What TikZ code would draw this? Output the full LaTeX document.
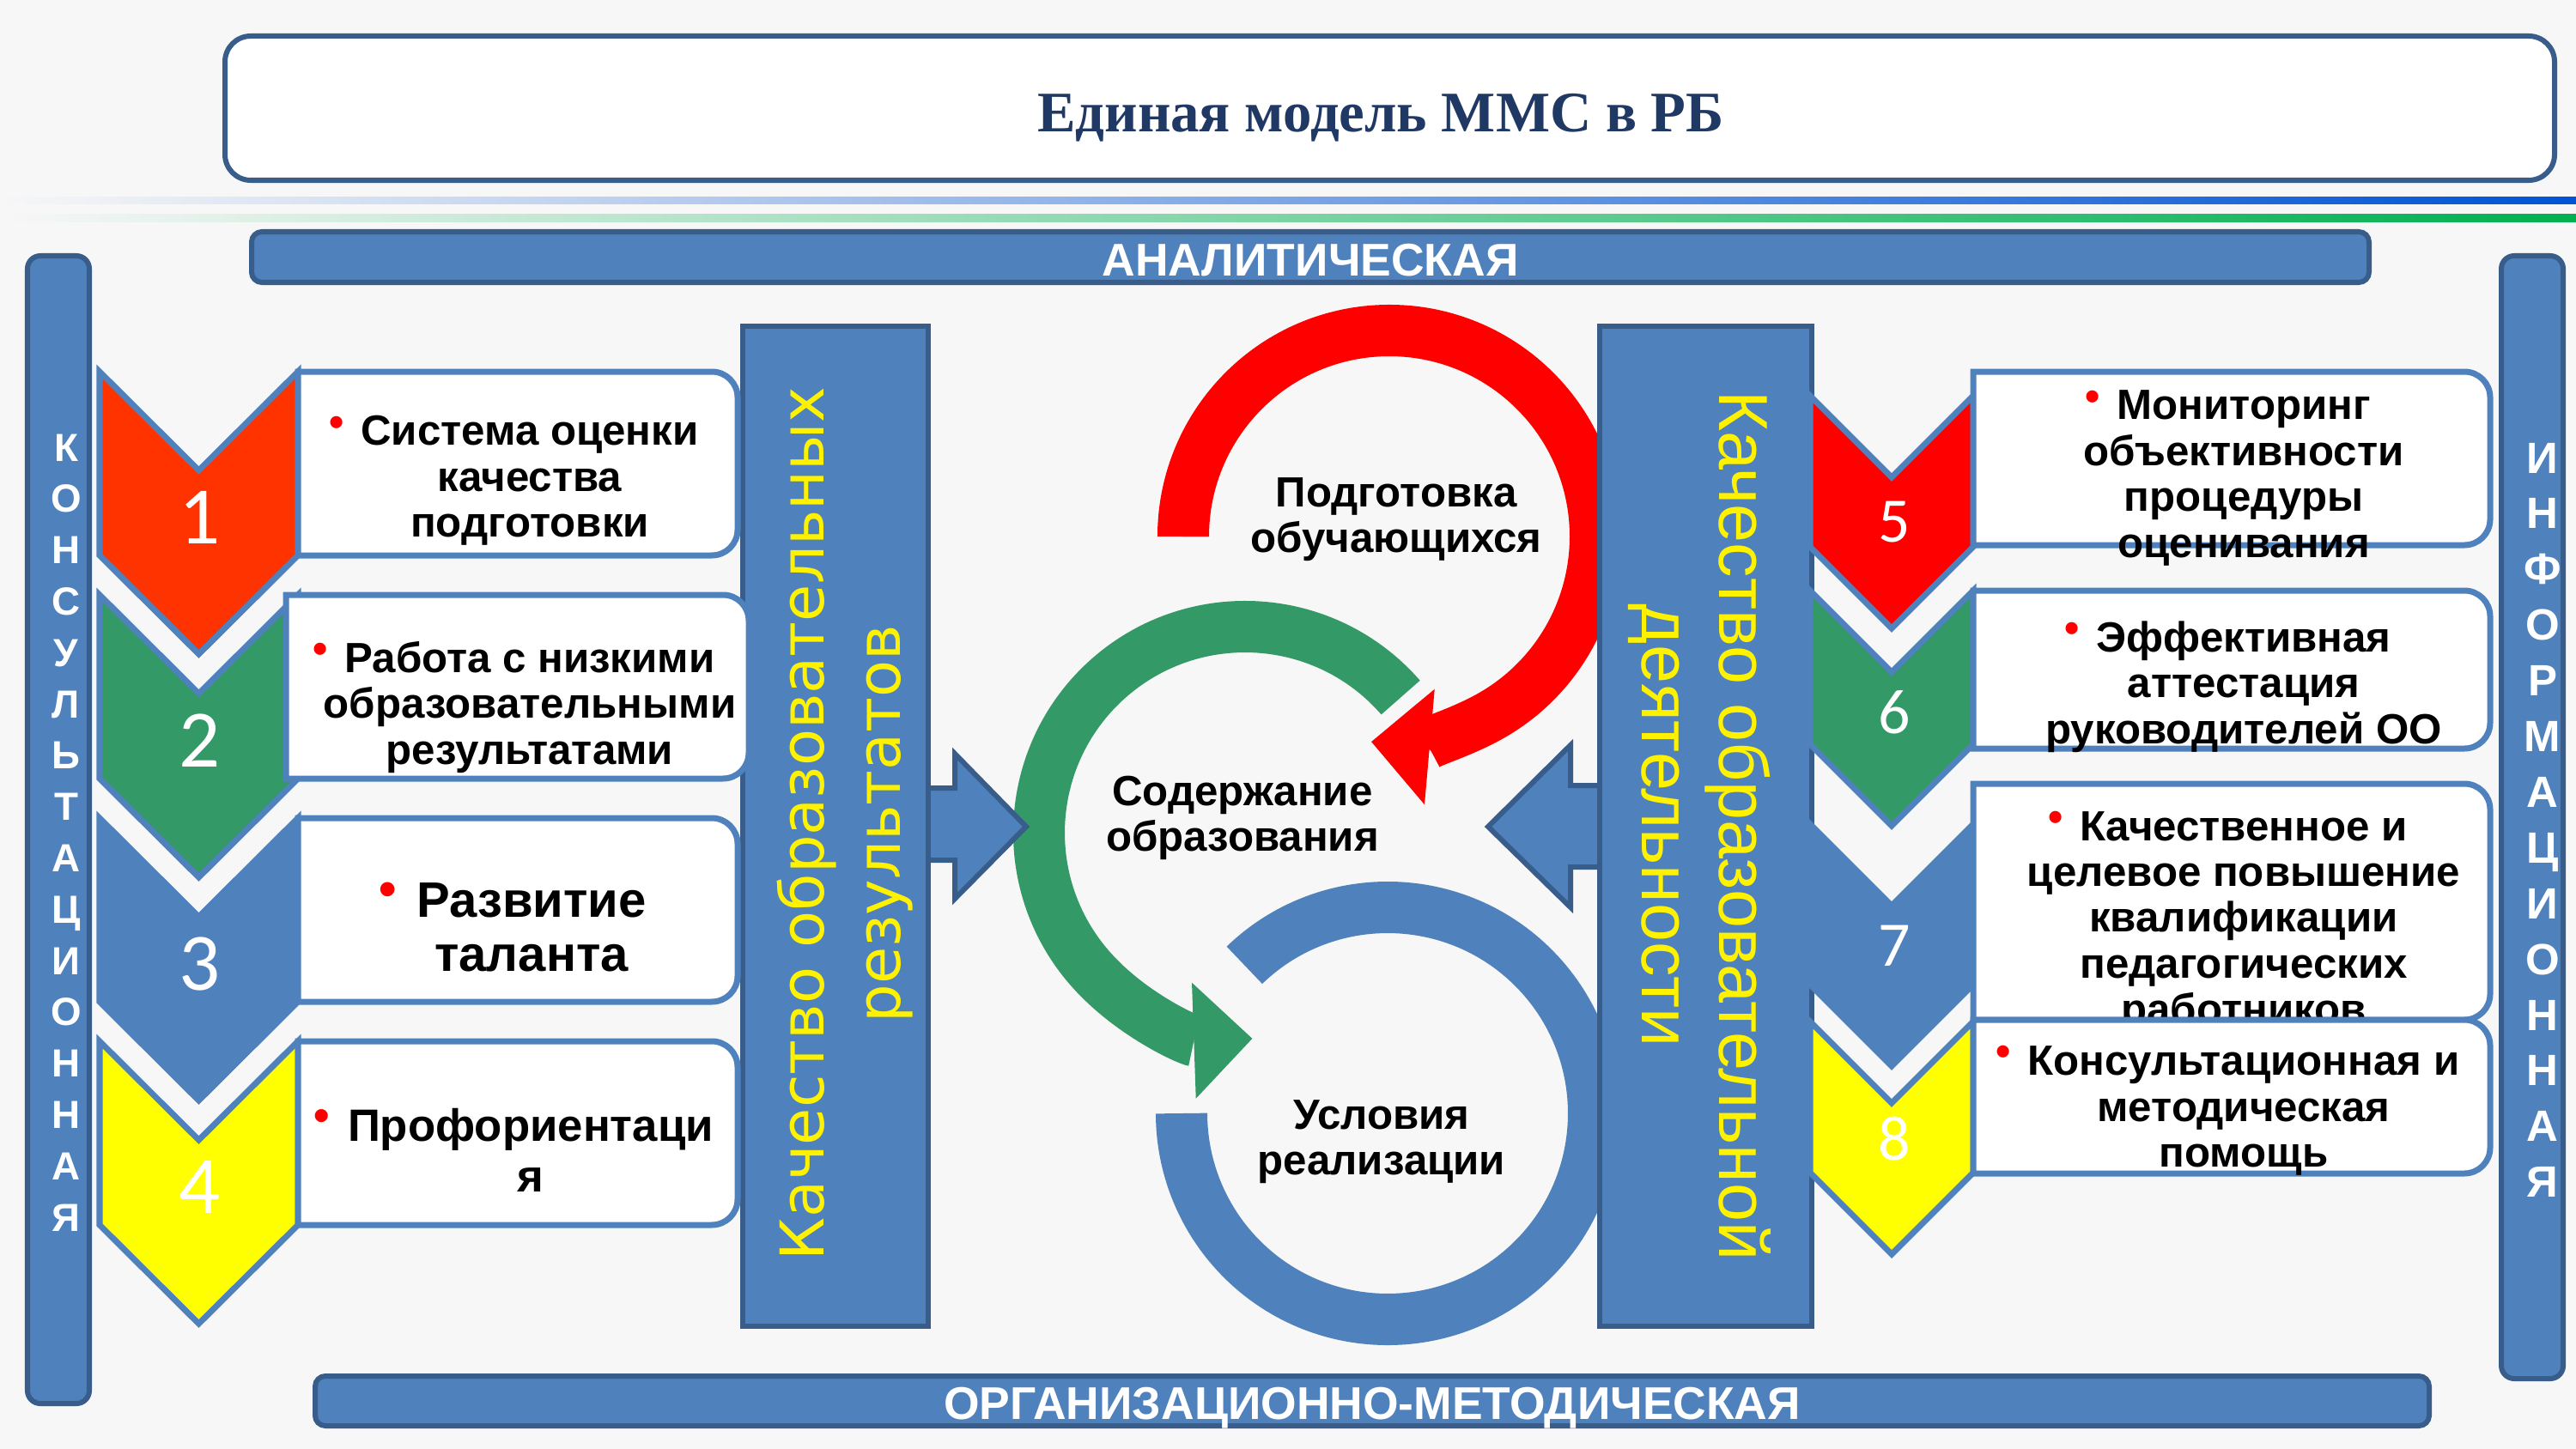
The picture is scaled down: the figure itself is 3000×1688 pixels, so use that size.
\documentclass[tikz,border=0pt]{standalone}
\usepackage{fontspec}
\setmainfont{Liberation Sans}
\newfontfamily\titlefont{Liberation Serif}
\newfontfamily\numfont{Carlito}
\newfontfamily\widefont{DejaVu Sans}
\usetikzlibrary{arrows.meta}

\definecolor{bgcol}{RGB}{247,247,247}
\definecolor{boxblue}{RGB}{79,129,189}
\definecolor{darkblue}{RGB}{56,93,138}
\definecolor{titleblue}{RGB}{31,56,100}
\definecolor{chevred}{RGB}{255,51,0}
\definecolor{ringred}{RGB}{255,0,0}
\definecolor{chevgreen}{RGB}{51,153,102}
\definecolor{chevyellow}{RGB}{255,255,0}
\definecolor{lineblue}{RGB}{0,84,212}
\definecolor{linegreen}{RGB}{0,176,80}

\newcommand{\bul}{\llap{{\color{red}\raisebox{0.22em}{\textbullet}}\hspace{0.4em}}}

\begin{document}
\begin{tikzpicture}[x=0.01cm, y=-0.01cm,
  bar/.style={fill=boxblue, draw=darkblue, line width=0.06cm},
  chev/.style={draw=boxblue, line width=0.07cm},
  textbox/.style={fill=white, draw=boxblue, line width=0.07cm},
  boxtext/.style={font=\bfseries\fontsize{14}{15.2}\selectfont, align=center},
  ringtext/.style={font=\bfseries\fontsize{14}{15}\selectfont, align=center},
  ring/.style={line width=0.6cm},
  ringtip/.style={-{Triangle[length=0.68cm, width=1.35cm, line width=0pt]}},
  number/.style={text=white, anchor=base},
  sideletter/.style={text=white, anchor=base}]

\useasboundingbox (0,0) rectangle (3000,1688);
\fill[bgcol] (0,0) rectangle (3000,1688);

\draw[fill=white, draw=darkblue, line width=0.06cm, rounded corners=0.3cm] (262,42) rectangle (2975,210);
\node[anchor=base, text=titleblue, font=\titlefont\bfseries\fontsize{19}{19}\selectfont] (title) at (1608,153) {Единая модель ММС в РБ};

\shade[left color=bgcol, right color=lineblue] (0,230) rectangle (3000,238);
\shade[left color=bgcol, right color=linegreen] (0,249) rectangle (3000,258);

\draw[bar, rounded corners=0.12cm] (293,270) rectangle (2759,329);
\node[anchor=base, text=white, font=\bfseries\fontsize{15.2}{15.2}\selectfont] (anal) at (1526,321) {АНАЛИТИЧЕСКАЯ};
\draw[bar, rounded corners=0.12cm] (367,1603) rectangle (2829,1661);
\node[anchor=base, text=white, font=\bfseries\fontsize{15.2}{15.2}\selectfont] (orgmet) at (1598,1653) {ОРГАНИЗАЦИОННО-МЕТОДИЧЕСКАЯ};

\draw[bar, rounded corners=0.15cm] (32,298) rectangle (104,1635);
\foreach \ch [count=\i from 0] in {К,О,Н,С,У,Л,Ь,Т,А,Ц,И,О,Н,Н,А,Я}
  \node[sideletter, font=\bfseries\fontsize{13}{13}\selectfont] (kons\i) at (77,{537+59.8*\i}) {\ch};
\draw[bar, rounded corners=0.15cm] (2913,298) rectangle (2985,1606);
\foreach \ch [count=\i from 0] in {И,Н,Ф,О,Р,М,А,Ц,И,О,Н,Н,А,Я}
  \node[sideletter, font=\bfseries\fontsize{14.5}{14.5}\selectfont] (info\i) at (2961,{551+64.9*\i}) {\ch};

\draw[ring, ringred, ringtip] (1618,625) ++(180:240) arc[start angle=180, end angle=455, radius=240];
\draw[ring, chevgreen, ringtip] (1450,970) ++(-41:240) arc[start angle=-41, end angle=-272, radius=240];
\draw[ring, boxblue] (1616,1297) ++(-134:240) arc[start angle=-134, end angle=180, radius=240];
\node[ringtext] (podg) at (1626,605) {Подготовка\\обучающихся};
\node[ringtext] (soder) at (1447,953) {Содержание\\образования};
\node[ringtext] (uslov) at (1609,1330) {Условия\\реализации};

\draw[bar] (1070,918) -- (1112,918) -- (1112,878) -- (1195,963) -- (1112,1047) -- (1112,1002) -- (1070,1002);
\draw[bar] (1875,915) -- (1829,915) -- (1829,868) -- (1733,963) -- (1829,1057) -- (1829,1010) -- (1875,1010);

\draw[bar] (865,380) rectangle (1081,1545);
\node[rotate=90, text=yellow, align=center, font=\widefont\fontsize{20}{25.3}\selectfont] (resbar) at (984,960) {Качество образовательных\\результатов};
\draw[bar] (1863,380) rectangle (2110,1545);
\node[rotate=-90, text=yellow, align=center, font=\fontsize{23}{25.6}\selectfont] (actbar) at (1979,962) {Качество образовательной\\деятельности};

\foreach \ty/\col in {433/chevred, 693/chevgreen, 953/boxblue, 1213/chevyellow}
  \draw[chev, fill=\col] (116,\ty) -- (231.5,{\ty+115}) -- (347,\ty) -- (347,{\ty+214}) -- (231.5,{\ty+329}) -- (116,{\ty+214}) -- cycle;
\foreach \ty/\xl/\xr in {433/347/859, 693/333/872, 953/347/859, 1213/347/859}
  \draw[textbox] (\xl,\ty) -- ({\xr-30},\ty) arc[start angle=-90, end angle=0, radius=30] -- (\xr,{\ty+184}) arc[start angle=0, end angle=90, radius=30] -- (\xl,{\ty+214}) -- cycle;
\foreach \ty [count=\n] in {433,693,953,1213}
  \node[number, font=\numfont\fontsize{27}{27}\selectfont] (num\n) at (233,{\ty+200}) {\n};

\node[boxtext] (sys) at (617,560) {\bul Система оценки\\качества\\подготовки};
\node[boxtext] (low) at (617,824) {\bul Работа с низкими\\образовательными\\результатами};
\node[boxtext, font=\bfseries\fontsize{16.5}{18}\selectfont] (talent) at (619,1080) {\bul Развитие\\таланта};
\node[boxtext, font=\bfseries\fontsize{15}{16.8}\selectfont] (prof) at (618,1340) {\bul Профориентаци\\я};

\foreach \ty/\hh/\col in {461/176/ringred, 688/179/chevgreen, 960/187/boxblue, 1190/176/chevyellow}
  \draw[chev, fill=\col] (2108,\ty) -- (2203,{\ty+95}) -- (2298,\ty) -- (2298,{\ty+\hh}) -- (2203,{\ty+\hh+95}) -- (2108,{\ty+\hh}) -- cycle;
\foreach \by [count=\n from 5] in {631,854,1125,1351}
  \node[number, font=\numfont\fontsize{21}{21}\selectfont] (num\n) at (2206,\by) {\n};

\foreach \ty/\by in {433/635, 688/872, 913/1188}
  \draw[textbox] (2298,\ty) -- (2870,\ty) arc[start angle=-90, end angle=0, radius=30] -- (2900,{\by-30}) arc[start angle=0, end angle=90, radius=30] -- (2298,\by) -- cycle;
\node[boxtext] (monit) at (2613,557) {\bul Мониторинг\\объективности\\процедуры\\оценивания};
\node[boxtext] (attest) at (2613,800) {\bul Эффективная\\аттестация\\руководителей ОО};
\node[boxtext] (kval) at (2613,1074) {\bul Качественное и\\целевое повышение\\квалификации\\педагогических\\работников};
\draw[textbox] (2298,1188) -- (2870,1188) arc[start angle=-90, end angle=0, radius=30] -- (2900,1337) arc[start angle=0, end angle=90, radius=30] -- (2298,1367) -- cycle;
\node[boxtext] (konsult) at (2613,1294) {\bul Консультационная и\\методическая\\помощь};
\end{tikzpicture}
\end{document}
